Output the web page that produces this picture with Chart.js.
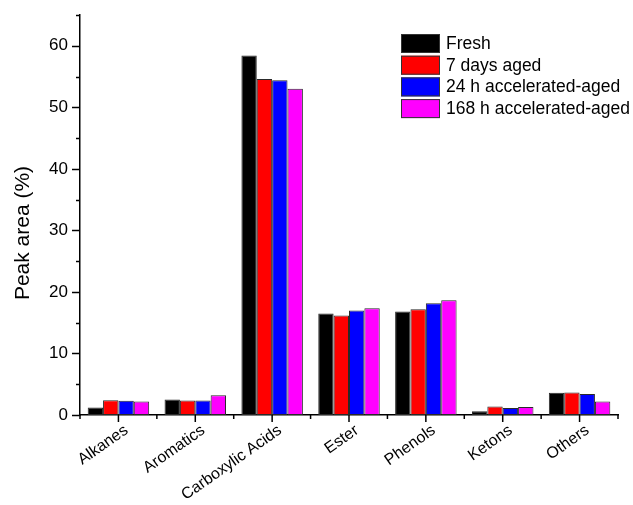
<!DOCTYPE html>
<html>
<head>
<meta charset="utf-8">
<script src="https://cdn.jsdelivr.net/npm/chart.js@4/dist/chart.umd.min.js"></script>
<style>
  html, body { margin: 0; padding: 0; background: #fff; }
  #wrap { width: 633px; height: 505px; position: relative; }
</style>
</head>
<body>
<div id="wrap"><canvas id="c" width="633" height="505"></canvas></div>
<script>
// Compound classes and peak-area shares (%) for each sample
const categories = ['Alkanes', 'Aromatics', 'Carboxylic Acids', 'Ester', 'Phenols', 'Ketons', 'Others'];
const seriesNames = ['Fresh', '7 days aged', '24 h accelerated-aged', '168 h accelerated-aged'];
const fresh      = [1.2, 2.5, 58.4, 16.5, 16.8, 0.6, 3.6];
const days7      = [2.4, 2.35, 54.6, 16.15, 17.2, 1.4, 3.65];
const accel24h   = [2.3, 2.35, 54.4, 17.0, 18.15, 1.15, 3.4];
const accel168h  = [2.2, 3.2, 53.0, 17.35, 18.65, 1.3, 2.2];
const yTicks     = [0, 10, 20, 30, 40, 50, 60];
const yAxisTitle = 'Peak area (%)';

const colors = ['#000000', '#ff0000', '#0000ff', '#ff00ff'];
const values = [fresh, days7, accel24h, accel168h];
const FONT = 'Arial, "Liberation Sans", sans-serif';

// Tick marks (major/minor) on both axes, y title and boxed legend
const decor = {
  id: 'decor',
  afterDraw(chart) {
    const ctx = chart.ctx;
    const xs = chart.scales.x, ys = chart.scales.y;
    const area = chart.chartArea;
    ctx.save();
    ctx.strokeStyle = '#000';
    ctx.lineWidth = 1.5;
    // y ticks: major every 10, minor every 5
    for (let v = 0; v <= 65; v += 5) {
      const py = Math.round(ys.getPixelForValue(v)) + 0.5;
      const len = (v % 10 === 0) ? 8 : 4;
      ctx.beginPath();
      ctx.moveTo(area.left - len, py);
      ctx.lineTo(area.left, py);
      ctx.stroke();
    }
    // x ticks: major at category centres, minor at boundaries
    const n = categories.length;
    const step = (area.right - area.left) / n;
    for (let i = 0; i < n; i++) {
      const cx = xs.getPixelForValue(i);
      ctx.beginPath();
      ctx.moveTo(cx, area.bottom);
      ctx.lineTo(cx, area.bottom + 7);
      ctx.stroke();
    }
    for (let i = 0; i <= n; i++) {
      const bx = area.left + i * step;
      ctx.beginPath();
      ctx.moveTo(bx, area.bottom);
      ctx.lineTo(bx, area.bottom + 4);
      ctx.stroke();
    }
    // y axis title
    ctx.fillStyle = '#000';
    ctx.font = '21px ' + FONT;
    ctx.textAlign = 'center';
    ctx.textBaseline = 'middle';
    ctx.translate(23, 233);
    ctx.rotate(-Math.PI / 2);
    ctx.fillText(yAxisTitle, 0, 0);
    ctx.restore();

    // legend
    ctx.save();
    const lx = 401, ly = 34, bw = 39, bh = 19, gap = 21.7;
    ctx.font = '17.5px ' + FONT;
    ctx.textAlign = 'left';
    ctx.textBaseline = 'middle';
    chart.data.datasets.forEach((ds, i) => {
      const y = ly + i * gap;
      ctx.fillStyle = ds.backgroundColor;
      ctx.fillRect(lx, y, bw, bh);
      ctx.strokeStyle = '#333';
      ctx.lineWidth = 1;
      ctx.strokeRect(lx + 0.5, y + 0.5, bw - 1, bh - 1);
      ctx.fillStyle = '#000';
      ctx.fillText(ds.label, lx + 45, y + bh / 2 + 0.5);
    });
    ctx.restore();
  }
};

new Chart(document.getElementById('c'), {
  type: 'bar',
  data: {
    labels: categories,
    datasets: seriesNames.map((name, i) => ({
      label: name,
      data: values[i],
      backgroundColor: colors[i],
      borderColor: '#2a2a2a',
      borderWidth: 1,
      borderSkipped: false,
      categoryPercentage: 0.8,
      barPercentage: 1.0
    }))
  },
  options: {
    responsive: false,
    animation: false,
    devicePixelRatio: 1,
    layout: { padding: { top: 15, right: 15, left: 0, bottom: 0 } },
    plugins: {
      legend: { display: false },
      tooltip: { enabled: false }
    },
    scales: {
      x: {
        grid: { display: false, drawTicks: false },
        border: { display: true, color: '#000', width: 1.5 },
        ticks: {
          color: '#000',
          font: { family: FONT, size: 16 },
          minRotation: 35,
          maxRotation: 35,
          padding: 6,
          labelOffset: 8,
          autoSkip: false
        },
        afterFit(scale) {
          scale.height = 90;
          scale.paddingLeft = 0;
          scale.paddingRight = 0;
        }
      },
      y: {
        min: 0,
        max: 65,
        grid: { display: false, drawTicks: false },
        border: { display: true, color: '#000', width: 1.5 },
        afterBuildTicks(scale) {
          scale.ticks = yTicks.map(v => ({ value: v }));
        },
        ticks: {
          color: '#000',
          font: { family: FONT, size: 17 },
          padding: 12
        },
        afterFit(scale) {
          scale.width = 80;
          scale.paddingTop = 0;
          scale.paddingBottom = 0;
        }
      }
    }
  },
  plugins: [decor]
});
</script>
</body>
</html>
